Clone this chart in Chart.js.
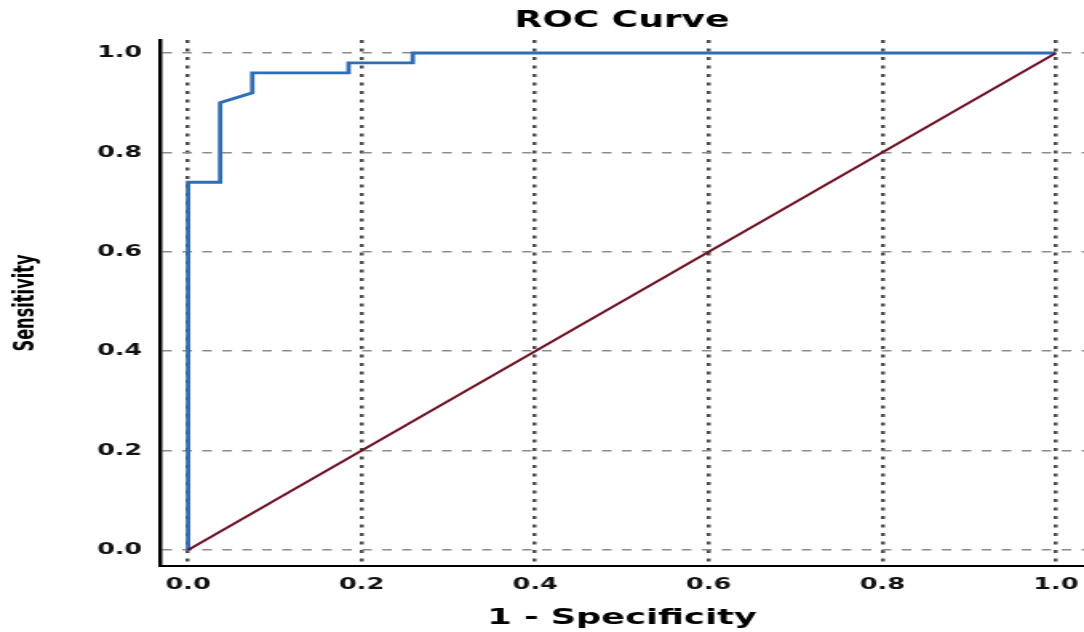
<!DOCTYPE html>
<html>
<head>
<meta charset="utf-8">
<title>ROC Curve</title>
<script src="https://cdn.jsdelivr.net/npm/chart.js@4.4.1/dist/chart.umd.min.js"></script>
<style>
    html, body { margin: 0; padding: 0; background: #fff; }
    #rocChart { display: block; }
</style>
</head>
<body>
<!-- the source picture is stretched sideways, so draw narrow and stretch the canvas -->
<canvas id="rocChart" width="678" height="632" style="width:1084px;height:632px"></canvas>
<script>
// ROC curve steps (1 - specificity, sensitivity)
const fprValues = [0, 0, 0.037, 0.037, 0.074, 0.074, 0.185, 0.185, 0.259, 0.259, 1];
const tprValues = [0, 0.74, 0.74, 0.90, 0.92, 0.96, 0.96, 0.98, 0.98, 1, 1];

// reference (chance) line
const refX = [0, 1];
const refY = [0, 1];

const xTicks = [0, 0.2, 0.4, 0.6, 0.8, 1.0];
const yTicks = [0, 0.2, 0.4, 0.6, 0.8, 1.0];

const FONT = "'DejaVu Sans', sans-serif";
const NARROW_FONT = "'DejaVu Sans Condensed', 'Liberation Sans Narrow', 'DejaVu Sans', sans-serif";

function toPoints(xs, ys) {
    return xs.map((x, i) => ({ x, y: ys[i] }));
}

function fixedTicks(values) {
    return (scale) => {
        scale.ticks = values.map((v) => ({ value: v }));
    };
}

const ctx = document.getElementById('rocChart').getContext('2d');
new Chart(ctx, {
    type: 'scatter',
    data: {
        datasets: [
            {
                label: 'Reference Line',
                data: toPoints(refX, refY),
                showLine: true,
                borderColor: '#6e0e22',
                borderWidth: 2,
                pointRadius: 0,
                fill: false,
            },
            {
                label: 'ROC',
                data: toPoints(fprValues, tprValues),
                showLine: true,
                borderColor: '#2e6db8',
                borderWidth: 2.8,
                pointRadius: 0,
                fill: false,
            },
        ],
    },
    options: {
        responsive: false,
        devicePixelRatio: 1,
        animation: false,
        events: [],
        layout: { padding: 0 },
        plugins: {
            legend: { display: false },
            tooltip: { enabled: false },
            title: {
                display: true,
                text: 'ROC Curve',
                fullSize: false,
                color: '#000',
                font: { family: FONT, size: 22.5, weight: 'bold' },
                padding: { top: 8, bottom: 5 },
            },
        },
        scales: {
            x: {
                type: 'linear',
                min: -0.0324,
                max: 1.0324,
                afterBuildTicks: fixedTicks(xTicks),
                afterFit: (scale) => {
                    scale.height = 66;
                    scale.paddingLeft = 0;
                    scale.paddingRight = 0;
                },
                ticks: {
                    color: '#111',
                    padding: 9,
                    maxRotation: 0,
                    font: { family: FONT, size: 16, weight: 'bold' },
                    callback: (v) => v.toFixed(1),
                },
                grid: { color: '#4e4e4e', lineWidth: 2.5, drawTicks: false },
                border: { display: true, color: '#000', width: 2, dash: [3, 5.5] },
                title: {
                    display: true,
                    text: '1 - Specificity',
                    color: '#000',
                    font: { family: FONT, size: 22, weight: 'bold' },
                    padding: { top: 0, bottom: 1 },
                },
            },
            y: {
                type: 'linear',
                min: -0.0322,
                max: 1.0262,
                afterBuildTicks: fixedTicks(yTicks),
                afterFit: (scale) => {
                    scale.width = 100;
                    scale.paddingTop = 0;
                    scale.paddingBottom = 0;
                },
                ticks: {
                    color: '#111',
                    padding: 11,
                    font: { family: FONT, size: 16, weight: 'bold' },
                    callback: (v) => v.toFixed(1),
                },
                grid: { color: '#8c8c8c', lineWidth: 1.5, drawTicks: false },
                border: { display: true, color: '#000', width: 2.5, dash: [6, 6.5] },
                title: {
                    display: true,
                    text: 'Sensitivity',
                    color: '#000',
                    font: { family: NARROW_FONT, size: 18, weight: 'bold' },
                    padding: { top: 6, bottom: 0 },
                },
            },
        },
    },
});
</script>
</body>
</html>
